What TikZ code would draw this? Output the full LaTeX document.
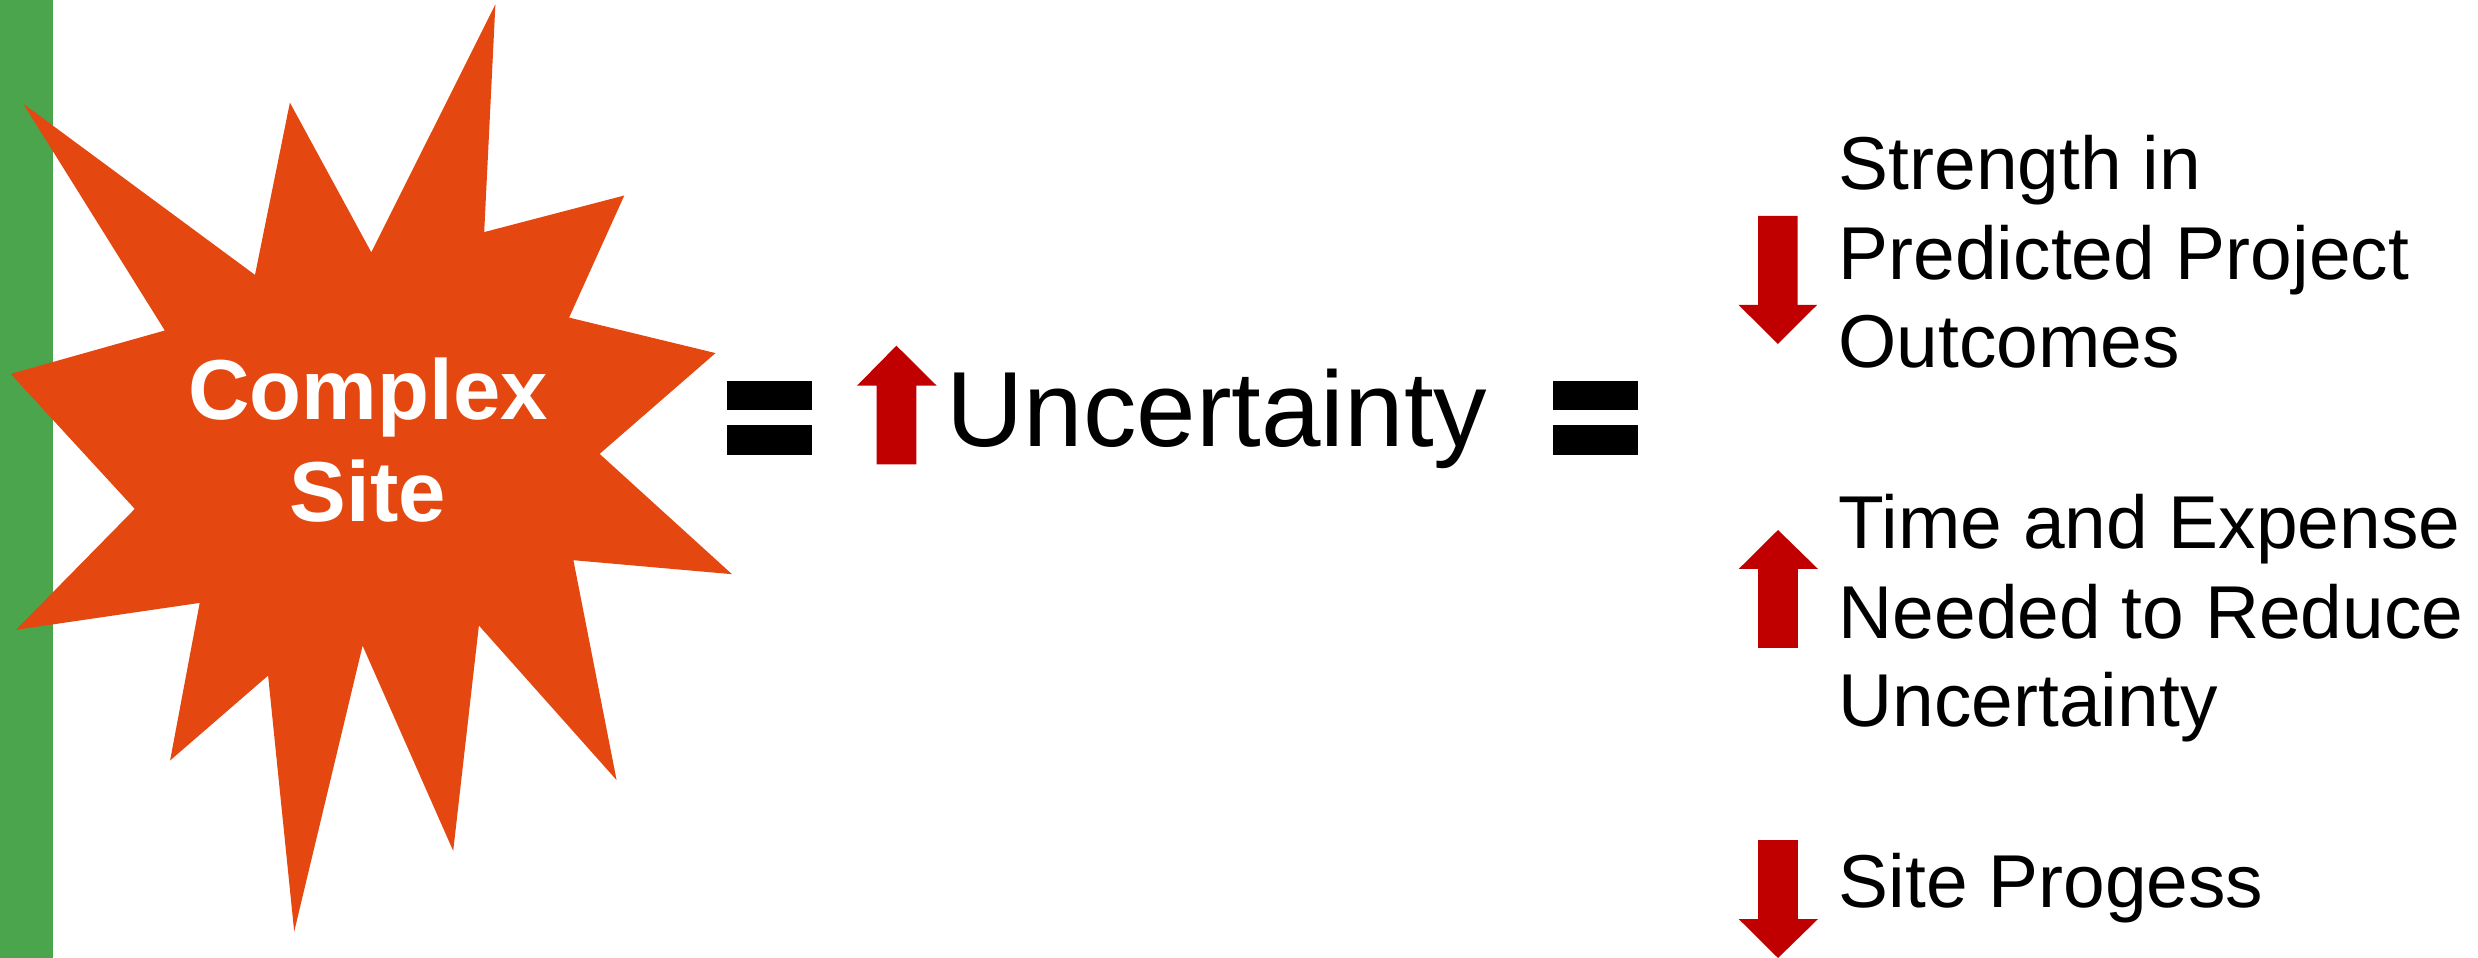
\documentclass[tikz,border=0pt]{standalone}
\usepackage{fontspec}
\setmainfont{Liberation Sans}
\definecolor{bargreen}{RGB}{74,165,76}
\definecolor{starorange}{RGB}{228,72,16}
\definecolor{arrowred}{RGB}{192,0,0}
\begin{document}
\begin{tikzpicture}[x=0.01cm,y=-0.01cm,
  startext/.style={inner sep=0pt,anchor=base,text=white,font=\fontsize{24.2}{29}\selectfont\bfseries},
  bigtext/.style={inner sep=0pt,anchor=base west,font=\fontsize{30.4}{36}\selectfont},
  listtext/.style={inner sep=0pt,anchor=base west,font=\fontsize{21.3}{25}\selectfont},
  eqbar/.style={fill=black},
  redarrow/.style={fill=arrowred}]
\useasboundingbox (0,0) rectangle (2478,958);
% green bar
\fill[bargreen] (0,0) rectangle (53,958);
% star
\fill[starorange] (23.3,103.8) -- (164.8,330.5) -- (10.7,373.9) -- (134.8,508.9) -- (16,629.8) -- (199.7,602.9) -- (170.1,760.5) -- (268.1,675.6) -- (294.2,931.6) -- (362.6,645.7) -- (453.2,850.9) -- (478.9,625.5) -- (616.6,780.1) -- (573.4,560.2) -- (732,574.2) -- (599.6,453.9) -- (715.5,353.1) -- (569.1,317.6) -- (624.3,195.5) -- (484.2,232.1) -- (495.4,4.3) -- (371.3,252.3) -- (289.9,102.6) -- (255,274.9) -- cycle;
\node[startext] (complex) at (368,420) {Complex};
\node[startext] (site) at (368,522) {Site};
% first equals
\fill[eqbar] (727,381) rectangle (812,410);
\fill[eqbar] (727,425.5) rectangle (812,455);
% up arrow before Uncertainty
\fill[redarrow] (876.5,464.3) -- (876.5,385.7) -- (857,385.7) -- (896.4,345.7) -- (936.7,385.7) -- (916.3,385.7) -- (916.3,464.3) -- cycle;
\node[bigtext] (unc) at (946,446.7) {Uncertainty};
% second equals
\fill[eqbar] (1553,381) rectangle (1638,410);
\fill[eqbar] (1553,425.5) rectangle (1638,455);
% right arrows
\fill[redarrow] (1758,216) -- (1758,305) -- (1738.7,305) -- (1777.8,344) -- (1817,305) -- (1797.5,305) -- (1797.5,216) -- cycle;
\fill[redarrow] (1758,648) -- (1758,569) -- (1738.7,569) -- (1778,530) -- (1818,569) -- (1797.8,569) -- (1797.8,648) -- cycle;
\fill[redarrow] (1758,840) -- (1758,919) -- (1738.7,919) -- (1778,958) -- (1818,919) -- (1797.8,919) -- (1797.8,840) -- cycle;
% right texts
\node[listtext] (l1) at (1838,190) {Strength in};
\node[listtext] (l2) at (1838,279.5) {Predicted Project};
\node[listtext] (l3) at (1838,368) {Outcomes};
\node[listtext] (l4) at (1838,548.8) {Time and Expense};
\node[listtext] (l5) at (1838,639) {Needed to Reduce};
\node[listtext] (l6) at (1838,726.7) {Uncertainty};
\node[listtext] (l7) at (1838,907) {Site Progess};
\end{tikzpicture}
\end{document}
